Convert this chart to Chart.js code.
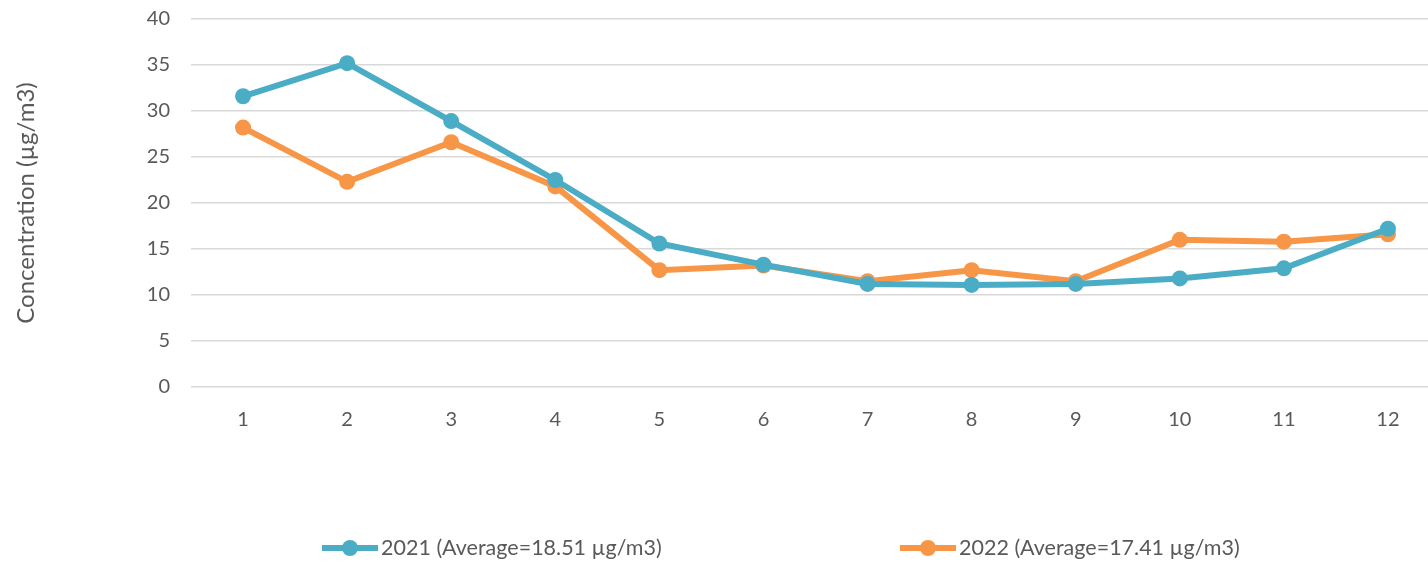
<!DOCTYPE html>
<html>
<head>
<meta charset="utf-8">
<script src="https://cdn.jsdelivr.net/npm/chart.js@4"></script>
<style>
html,body{margin:0;padding:0;background:#fff;overflow:hidden;}
#wrap{width:1448px;height:576px;position:absolute;left:0;top:-14px;}
</style>
</head>
<body>
<div id="wrap"><canvas id="c" width="1448" height="576"></canvas></div>
<script>
const months = ['1','2','3','4','5','6','7','8','9','10','11','12'];
const values2021 = [31.6, 35.2, 28.9, 22.5, 15.6, 13.3, 11.2, 11.1, 11.2, 11.8, 12.9, 17.2];
const values2022 = [28.2, 22.3, 26.6, 21.8, 12.7, 13.2, 11.5, 12.7, 11.5, 16.0, 15.8, 16.6];
const seriesLabels = ['2021 (Average=18.51 µg/m3)', '2022 (Average=17.41 µg/m3)'];
const yAxisTitle = 'Concentration (µg/m3)';
const yTicks = [0, 5, 10, 15, 20, 25, 30, 35, 40];

const FONT = 'Lato, "Open Sans", sans-serif';
const TXT = '#595959';
const BLUE = '#4bacc6';
const ORANGE = '#f79646';

const legendPlugin = {
  id: 'customLegend',
  afterDraw(chart) {
    const ctx = chart.ctx;
    const y = 562;
    const starts = [322, 900];
    ctx.save();
    chart.data.datasets.forEach((ds, i) => {
      const x = starts[i];
      ctx.strokeStyle = ds.borderColor;
      ctx.lineWidth = 6;
      ctx.lineCap = 'butt';
      ctx.beginPath();
      ctx.moveTo(x, y);
      ctx.lineTo(x + 56, y);
      ctx.stroke();
      ctx.fillStyle = ds.backgroundColor;
      ctx.beginPath();
      ctx.arc(x + 28, y, 8, 0, Math.PI * 2);
      ctx.fill();
      ctx.fillStyle = TXT;
      ctx.font = '21.5px ' + FONT;
      ctx.textBaseline = 'middle';
      ctx.textAlign = 'left';
      ctx.fillText(ds.label, x + 59, y);
    });
    ctx.restore();
  }
};

new Chart(document.getElementById('c'), {
  type: 'line',
  data: {
    labels: months,
    datasets: [
      {label: seriesLabels[0], data: values2021, borderColor: BLUE, backgroundColor: BLUE,
       borderWidth: 6, pointRadius: 8, pointHoverRadius: 8, pointBorderWidth: 0, tension: 0},
      {label: seriesLabels[1], data: values2022, borderColor: ORANGE, backgroundColor: ORANGE,
       borderWidth: 6, pointRadius: 8, pointHoverRadius: 8, pointBorderWidth: 0, tension: 0}
    ]
  },
  options: {
    responsive: false,
    animation: false,
    layout: {padding: {left: 12, top: 3, right: 0, bottom: 0}},
    plugins: {legend: {display: false}, tooltip: {enabled: false}},
    scales: {
      x: {
        offset: true,
        grid: {display: false, drawTicks: false},
        border: {display: false},
        ticks: {color: TXT, font: {family: FONT, size: 20}, padding: 21},
        afterFit(s) { s.height = 175; }
      },
      y: {
        min: 0, max: 40,
        afterBuildTicks(s) { s.ticks = yTicks.map(v => ({value: v})); },
        grid: {color: '#d9d9d9', lineWidth: 1.5, drawTicks: false},
        border: {display: false},
        ticks: {color: TXT, font: {family: FONT, size: 20}, padding: 21},
        title: {display: true, text: yAxisTitle, color: TXT, font: {family: FONT, size: 24}, padding: 0},
        afterFit(s) { s.width = 179; }
      }
    }
  },
  plugins: [legendPlugin]
});
</script>
</body>
</html>
